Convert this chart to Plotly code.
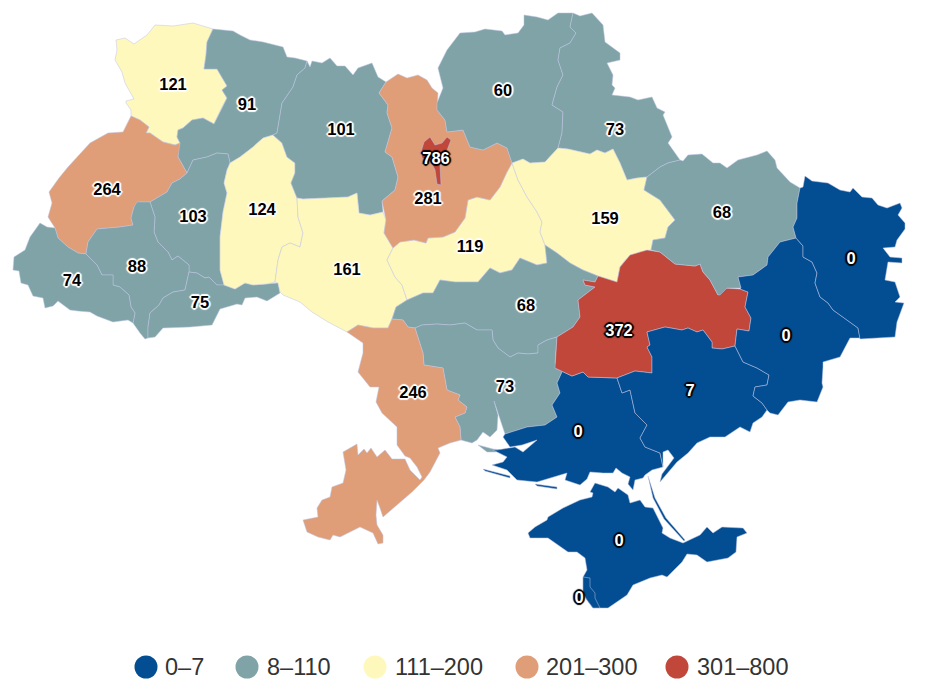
from plotly import graph_objs as go

# bins of the map
BIN_LABELS = ['0–7', '8–110', '111–200', '201–300', '301–800']
BIN_TOPS = [7, 110, 200, 300, 800]
BIN_COLORS = ['#034e92', '#7fa3a6', '#fff8bd', '#e09e78', '#c1473a']

REGION_NAMES = ['Volyn', 'Rivne', 'Lviv', 'Ternopil', 'Ivano-Frankivsk', 'Zakarpattia', 'Chernivtsi',
                'Khmelnytskyi', 'Zhytomyr', 'Vinnytsia', 'Cherkasy', 'Kyiv Oblast', 'Kyiv', 'Chernihiv',
                'Sumy', 'Poltava', 'Kirovohrad', 'Mykolaiv', 'Odesa', 'Kherson', 'Dnipropetrovsk',
                'Kharkiv', 'Zaporizhzhia', 'Donetsk', 'Luhansk', 'Crimea', 'Sevastopol']
REGION_VALUES = [121, 91, 264, 103, 88, 74, 75, 124, 101, 161, 119, 281, 786, 60, 73, 159, 68, 73, 246,
                 0, 372, 68, 7, 0, 0, 0, 0]
LABEL_X = [173, 247, 107, 193, 137, 72, 200, 262, 341, 347, 470, 428, 436, 503, 615, 605, 526, 505, 413,
           578, 619, 722, 690, 786, 851, 619, 579]
LABEL_Y = [86, 106, 191, 218, 268, 282, 304, 211, 131, 271, 248, 200, 160, 92, 131, 220, 307, 388, 394,
           433, 332, 214, 392, 337, 260, 542, 599]

# outlines in map units, None starts another part of the same region
VOLYN = [(116,40),(125,38),(134,44),(147,35),(155,25),(173,26),(193,23),(213,29),(207,42),(206,55),(204,69),(217,69),(227,86),(222,90),(227,98),(222,107),(214,124),(203,118),(192,120),(183,128),(178,130),(177,137),(180,143),(175,145),(163,142),(150,133),(146,133),(149,127),(140,120),(131,116),(131,110),(126,103),(126,101),(134,99),(125,83),(122,72),(115,60),(117,50)]
RIVNE = [(213,29),(233,31),(240,35),(250,40),(263,42),(283,47),(287,57),(295,58),(307,61),(305,68),(297,75),(293,87),(282,103),(280,117),(277,133),(273,135),(263,138),(253,147),(240,157),(230,163),(228,154),(217,153),(207,157),(193,160),(187,173),(178,157),(178,147),(180,143),(177,137),(178,130),(183,128),(192,120),(203,118),(214,124),(222,107),(227,98),(222,90),(227,86),(217,69),(204,69),(206,55),(207,42)]
LVIV = [(131,116),(140,120),(149,127),(146,133),(150,133),(163,142),(175,145),(180,143),(178,157),(187,173),(180,179),(172,183),(167,192),(150,202),(140,202),(134,207),(131,218),(133,225),(120,227),(97,229),(88,242),(86,254),(78,253),(68,247),(58,238),(55,228),(48,217),(52,203),(49,192),(59,178),(68,167),(90,143),(108,133),(123,132),(127,124)]
TERNOPIL = [(187,173),(193,160),(207,157),(217,153),(228,154),(230,163),(227,170),(224,183),(227,193),(223,212),(220,237),(220,255),(220,270),(224,285),(217,285),(209,277),(205,278),(197,273),(189,272),(189,265),(178,256),(172,260),(168,252),(158,242),(154,232),(155,217),(150,202),(167,192),(172,183),(180,179)]
IVANO = [(137,202),(150,202),(155,217),(154,232),(158,242),(168,252),(172,260),(178,256),(189,265),(189,272),(185,290),(173,292),(163,298),(159,305),(150,313),(148,327),(148,338),(145,339),(140,333),(133,323),(135,313),(131,307),(129,295),(120,287),(113,285),(113,275),(102,275),(97,265),(86,254),(88,242),(97,229),(120,227),(133,225),(131,218),(134,207)]
ZAKARPATTIA = [(86,254),(97,265),(102,275),(113,275),(113,285),(120,287),(129,295),(131,307),(135,313),(133,323),(128,320),(113,322),(97,316),(90,312),(78,311),(70,310),(58,301),(53,306),(45,308),(43,298),(33,296),(28,285),(21,283),(19,271),(13,270),(14,257),(25,250),(30,237),(40,223),(47,227),(55,228),(58,238),(68,247),(78,253)]
CHERNIVTSI = [(189,272),(197,273),(205,278),(209,277),(217,285),(224,285),(235,289),(245,283),(253,285),(267,284),(278,283),(280,293),(267,301),(257,297),(245,298),(242,305),(237,304),(220,309),(212,325),(190,327),(163,328),(155,337),(148,338),(148,327),(150,313),(159,305),(163,298),(173,292),(185,290)]
KHMELNYTSKYI = [(273,135),(282,143),(287,157),(295,163),(295,173),(291,183),(297,198),(298,217),(303,233),(300,247),(290,243),(282,247),(278,260),(275,282),(267,284),(253,285),(245,283),(235,289),(224,285),(220,270),(220,255),(220,237),(223,212),(227,193),(224,183),(227,170),(230,163),(240,157),(253,147),(263,138)]
ZHYTOMYR = [(307,61),(310,67),(312,61),(322,63),(330,58),(337,66),(345,66),(353,75),(358,68),(372,63),(378,77),(386,82),(379,93),(388,105),(387,113),(392,128),(385,152),(392,157),(398,177),(395,190),(382,201),(383,212),(370,215),(359,213),(357,193),(348,197),(303,199),(297,198),(291,183),(295,173),(295,163),(287,157),(282,143),(273,135),(277,133),(280,117),(282,103),(293,87),(297,75),(305,68)]
VINNYTSIA = [(297,198),(303,199),(348,197),(357,193),(359,213),(370,215),(383,212),(386,220),(384,233),(393,248),(387,260),(395,277),(402,285),(407,300),(396,307),(392,319),(388,328),(373,328),(358,325),(347,332),(328,322),(320,317),(312,312),(300,302),(283,295),(280,292),(278,283),(275,282),(278,260),(282,247),(290,243),(300,247),(303,233),(298,217)]
CHERKASY = [(393,248),(400,242),(414,240),(426,243),(428,238),(443,237),(455,232),(465,218),(468,200),(477,197),(490,200),(500,187),(507,172),(512,163),(518,180),(527,197),(537,212),(542,222),(540,232),(545,245),(547,263),(537,265),(520,258),(512,270),(500,273),(490,268),(478,282),(455,282),(440,280),(433,293),(423,293),(407,300),(402,285),(395,277),(387,260)]
KYIV_OBLAST = [(386,82),(398,74),(407,78),(418,75),(427,80),(432,88),(438,93),(437,110),(445,120),(447,132),(463,130),(470,147),(483,150),(497,143),(507,148),(512,163),(507,172),(500,187),(490,200),(477,197),(468,200),(465,218),(455,232),(443,237),(428,238),(426,243),(414,240),(400,242),(393,248),(384,233),(386,220),(382,201),(395,190),(398,177),(392,157),(385,152),(392,128),(387,113),(388,105),(379,93)]
KYIV_CITY = [(421,152),(424,142),(430,137),(435,145),(442,143),(447,137),(451,140),(446,153),(440,165),(441,185),(437,184),(435,170),(431,162),(422,158)]
CHERNIHIV = [(524,15),(537,17),(548,20),(558,13),(573,13),(570,27),(576,33),(570,43),(560,48),(558,60),(563,75),(557,87),(552,105),(563,112),(562,133),(558,148),(545,162),(530,163),(523,159),(512,163),(507,148),(497,143),(483,150),(470,147),(463,130),(447,132),(445,120),(437,110),(437,103),(443,88),(438,68),(447,50),(460,33),(475,32),(485,29),(502,31),(505,35),(518,33),(524,25)]
SUMY = [(573,13),(580,16),(592,13),(603,25),(605,42),(620,53),(620,60),(607,63),(613,75),(612,85),(615,88),(612,95),(630,97),(638,100),(652,97),(657,108),(665,112),(663,115),(672,137),(668,143),(680,160),(668,163),(660,167),(647,177),(637,178),(627,180),(620,163),(613,149),(605,153),(597,150),(590,154),(568,149),(558,148),(562,133),(563,112),(552,105),(557,87),(563,75),(558,60),(560,48),(570,43),(576,33),(570,27)]
POLTAVA = [(512,163),(523,159),(530,163),(545,162),(558,148),(568,149),(590,154),(597,150),(605,153),(613,149),(620,163),(627,180),(637,178),(647,177),(644,190),(660,200),(675,220),(668,227),(665,238),(653,240),(651,250),(640,252),(625,260),(620,267),(617,282),(598,276),(583,270),(570,263),(557,253),(545,245),(540,232),(542,222),(537,212),(527,197),(518,180)]
KIROVOHRAD = [(407,300),(423,293),(433,293),(440,280),(455,282),(478,282),(490,268),(500,273),(512,270),(520,258),(537,265),(547,263),(545,245),(557,253),(570,263),(583,270),(598,276),(595,282),(583,280),(585,285),(595,287),(578,300),(580,317),(573,327),(557,337),(547,340),(538,345),(538,353),(528,354),(518,353),(510,357),(498,348),(493,340),(492,330),(477,330),(465,323),(450,325),(437,324),(422,325),(415,328),(408,327),(403,320),(392,319),(396,307)]
MYKOLAIV = [(415,328),(422,325),(437,324),(450,325),(465,323),(477,330),(492,330),(493,340),(498,348),(510,357),(518,353),(528,354),(538,353),(538,345),(547,340),(557,337),(555,363),(562,372),(557,383),(560,393),(552,405),(557,417),(545,425),(527,427),(505,434),(500,418),(494,401),(498,415),(497,430),(490,437),(483,432),(477,440),(472,443),(461,440),(460,427),(455,417),(465,413),(467,407),(458,400),(460,395),(447,390),(443,368),(424,365),(423,353),None,(478,445),(487,452),(495,452),(503,450),(493,449)]
ODESA = [(347,332),(358,325),(373,328),(388,328),(392,319),(403,320),(408,327),(415,328),(423,353),(424,365),(443,368),(447,390),(460,395),(458,400),(467,407),(465,413),(455,417),(460,427),(461,440),(450,443),(438,448),(440,453),(430,472),(424,480),(412,492),(403,500),(392,510),(383,517),(380,508),(377,500),(376,515),(377,525),(383,535),(383,543),(378,544),(373,533),(360,527),(340,537),(333,535),(330,540),(318,537),(307,532),(303,520),(318,517),(317,508),(322,500),(330,497),(332,487),(343,483),(346,470),(343,452),(357,444),(358,455),(364,449),(367,453),(371,448),(377,457),(385,450),(392,459),(405,459),(410,470),(420,480),(422,477),(417,467),(410,458),(405,456),(397,445),(397,427),(382,413),(376,402),(379,387),(370,387),(358,372),(363,353),(363,343)]
KHERSON = [(505,434),(527,427),(545,425),(557,417),(552,405),(560,393),(557,383),(562,372),(555,368),(572,376),(583,372),(588,377),(617,378),(622,393),(630,390),(635,413),(647,425),(640,438),(645,447),(660,453),(663,467),(652,470),(645,475),(643,478),(635,480),(633,490),(628,484),(630,477),(622,473),(616,468),(613,473),(603,473),(590,472),(587,479),(580,485),(565,480),(567,473),(553,477),(537,482),(517,480),(507,470),(492,465),(503,462),(507,457),(493,450),(497,450),(515,447),(523,452),(537,440),(522,445),(510,447),(503,437),None,(483,469),(510,476),(510,478),(485,471),None,(535,484),(557,487),(557,489),(537,486)]
DNIPRO = [(620,267),(630,255),(647,250),(660,252),(675,264),(695,266),(700,264),(703,272),(710,280),(718,295),(725,288),(740,289),(748,292),(745,307),(751,318),(749,331),(737,329),(735,346),(722,349),(712,348),(712,342),(703,330),(697,332),(688,328),(682,330),(665,327),(647,332),(650,345),(647,347),(652,357),(652,373),(635,371),(617,378),(588,377),(583,372),(572,376),(555,368),(557,337),(573,327),(580,317),(578,300),(595,287),(585,285),(583,280),(595,282),(598,276),(617,282)]
KHARKIV = [(644,190),(647,177),(660,167),(668,163),(680,160),(683,161),(688,155),(702,154),(713,163),(720,163),(727,168),(738,160),(757,155),(767,151),(775,160),(777,168),(790,182),(800,188),(797,203),(797,218),(793,227),(796,238),(780,242),(768,257),(767,265),(753,275),(738,277),(741,288),(727,288),(720,295),(718,295),(710,280),(703,272),(700,264),(695,266),(675,264),(660,252),(651,250),(653,240),(665,238),(668,227),(675,220),(660,200)]
ZAPORIZHZHIA = [(617,378),(635,371),(652,373),(652,357),(647,347),(650,345),(647,332),(665,327),(682,330),(688,328),(697,332),(703,330),(712,342),(712,348),(722,349),(735,346),(743,362),(757,368),(769,375),(767,385),(755,387),(753,396),(762,403),(767,410),(762,417),(753,423),(750,432),(740,427),(725,437),(710,437),(697,443),(688,453),(677,462),(660,482),(662,474),(674,458),(668,450),(663,452),(663,467),(660,453),(645,447),(640,438),(647,425),(635,413),(630,390),(622,393)]
DONETSK = [(738,277),(753,275),(767,265),(768,257),(780,242),(796,238),(803,246),(803,257),(812,262),(817,273),(815,283),(820,297),(828,303),(833,310),(847,320),(858,328),(860,338),(850,338),(840,357),(823,362),(823,367),(822,383),(823,387),(817,402),(800,400),(788,402),(778,415),(770,413),(767,410),(762,403),(753,396),(755,387),(767,385),(769,375),(757,368),(743,362),(735,346),(737,329),(749,331),(751,318),(745,307),(748,292),(740,289),(741,288)]
LUHANSK = [(805,176),(812,181),(828,183),(840,190),(850,192),(853,188),(862,197),(872,198),(878,205),(887,208),(900,203),(902,208),(898,215),(905,223),(905,229),(897,240),(895,247),(883,248),(890,257),(902,258),(902,263),(888,262),(885,280),(895,282),(900,297),(895,302),(904,303),(897,322),(895,337),(860,339),(858,328),(847,320),(833,310),(828,303),(820,297),(815,283),(817,273),(812,262),(803,257),(803,246),(796,238),(793,227),(797,218),(797,203),(800,188),(803,187)]
CRIMEA = [(528,533),(535,527),(547,520),(548,517),(563,508),(580,500),(592,497),(593,493),(590,492),(595,483),(608,487),(615,492),(618,488),(628,495),(630,503),(640,500),(645,507),(653,508),(663,528),(662,533),(670,538),(683,543),(700,535),(707,527),(713,533),(722,527),(743,528),(747,533),(737,537),(736,552),(728,558),(707,562),(697,555),(687,554),(682,562),(667,577),(662,575),(650,578),(633,585),(627,595),(608,608),(593,608),(587,600),(583,593),(583,577),(587,570),(585,558),(577,552),(568,552),(548,538),(530,538),None,(648,476),(655,498),(666,518),(685,540),(684,541),(664,519),(653,498)]
SEVASTOPOL = [(583,577),(590,578),(590,587),(595,593),(595,598),(600,608),(593,608),(587,600),(583,593)]

REGION_OUTLINES = [VOLYN, RIVNE, LVIV, TERNOPIL, IVANO, ZAKARPATTIA, CHERNIVTSI, KHMELNYTSKYI, ZHYTOMYR, VINNYTSIA,
                   CHERKASY, KYIV_OBLAST, KYIV_CITY, CHERNIHIV, SUMY, POLTAVA, KIROVOHRAD, MYKOLAIV, ODESA, KHERSON,
                   DNIPRO, KHARKIV, ZAPORIZHZHIA, DONETSK, LUHANSK, CRIMEA, SEVASTOPOL]

DARK_BINS = [0, 4]
FONT = 'Liberation Sans, Arial, sans-serif'


def bin_of(value):
    for i, top in enumerate(BIN_TOPS):
        if value <= top:
            return i
    return len(BIN_TOPS) - 1


def closed_parts(outline):
    # every part of a region has to end on its own first point
    xs, ys = [], []
    start = 0
    for j, p in enumerate(outline + [None]):
        if p is None:
            first = outline[start]
            xs += [q[0] for q in outline[start:j]] + [first[0], None]
            ys += [q[1] for q in outline[start:j]] + [first[1], None]
            start = j + 1
    return xs[:-1], ys[:-1]


def halo(color):
    # outline round the label text
    offsets = [(-1, -1), (1, -1), (-1, 1), (1, 1), (0, -2), (0, 2), (-2, 0), (2, 0)]
    return ', '.join(f'{x}px {y}px 1px {color}' for x, y in offsets)


fig = go.Figure()

# Kyiv city and Sevastopol come after the oblasts round them
order = sorted(range(len(REGION_NAMES)), key=lambda i: REGION_NAMES[i] in ('Kyiv', 'Sevastopol'))
for i in order:
    xs, ys = closed_parts(REGION_OUTLINES[i])
    fig.add_trace(go.Scatter(
        x=xs,
        y=ys,
        mode='lines',
        fill='toself',
        fillcolor=BIN_COLORS[bin_of(REGION_VALUES[i])],
        line=dict(color='rgba(190,195,230,0.5)', width=1),
        name=REGION_NAMES[i],
        text=f'{REGION_NAMES[i]}: {REGION_VALUES[i]}',
        hoverinfo='text',
        hoveron='fills',
        showlegend=False,
    ))

# labels, white on the dark bins and black on the rest
for dark in (False, True):
    picks = [i for i, v in enumerate(REGION_VALUES) if (bin_of(v) in DARK_BINS) == dark]
    fig.add_trace(go.Scatter(
        x=[LABEL_X[i] for i in picks],
        y=[LABEL_Y[i] for i in picks],
        text=[str(REGION_VALUES[i]) for i in picks],
        mode='text',
        textposition='middle center',
        textfont=dict(
            family=FONT, size=16.5, weight='bold',
            color='white' if dark else 'black',
            shadow=halo('black' if dark else 'white'),
        ),
        hoverinfo='skip',
        showlegend=False,
    ))

# legend row, plotly's own legend caps its symbols below this size
legend_dot_x = [146, 247, 375, 527, 677]
legend_text_x = [163, 265, 393, 544, 695]
for i, label in enumerate(BIN_LABELS):
    fig.add_trace(go.Scatter(
        x=[legend_dot_x[i]], y=[667],
        mode='markers',
        marker=dict(color=BIN_COLORS[i], size=23),
        name=label,
        hoverinfo='name',
        showlegend=False,
    ))
    fig.add_annotation(
        x=legend_text_x[i], y=667, text=label, showarrow=False,
        xanchor='left', yanchor='middle',
        font=dict(family=FONT, size=23.5, color='#333333'),
    )

fig.update_layout(
    width=925,
    height=693,
    margin=dict(l=0, r=0, t=0, b=0),
    plot_bgcolor='white',
    paper_bgcolor='white',
    xaxis=dict(range=[0, 925], visible=False, fixedrange=True),
    yaxis=dict(range=[693, 0], visible=False, fixedrange=True),
)

fig.write_html("out.html", config=dict(displayModeBar=False),
               post_script="document.body.style.margin = '0';")
